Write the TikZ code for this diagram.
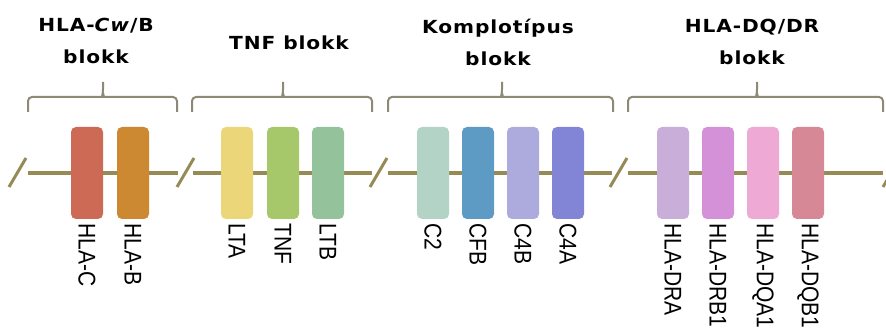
\documentclass[tikz,border=0pt]{standalone}
\usepackage{fontspec}
\setmainfont{Liberation Sans}
\newfontfamily\titlefont[LetterSpace=5,FakeStretch=1.12]{DejaVu Sans}
\definecolor{chrom}{RGB}{150,139,85}
\definecolor{bracec}{RGB}{140,137,118}
\definecolor{cA}{RGB}{204,106,85}
\definecolor{cB}{RGB}{205,137,50}
\definecolor{cLTA}{RGB}{235,214,122}
\definecolor{cTNF}{RGB}{166,200,106}
\definecolor{cLTB}{RGB}{148,194,154}
\definecolor{cCtwo}{RGB}{178,211,198}
\definecolor{cCFB}{RGB}{94,155,196}
\definecolor{cCfourB}{RGB}{173,170,222}
\definecolor{cCfourA}{RGB}{130,133,214}
\definecolor{cDRA}{RGB}{200,174,216}
\definecolor{cDRB}{RGB}{212,145,215}
\definecolor{cDQA}{RGB}{238,170,213}
\definecolor{cDQB}{RGB}{215,136,150}
\tikzset{
  gene/.style={rounded corners=5pt, minimum width=32pt, minimum height=92pt, inner sep=0pt},
  genelabel/.style={rotate=-90, anchor=west, inner sep=0pt, font=\fontsize{21}{21}\selectfont},
  chromline/.style={draw=chrom, line width=4pt},
  breakmark/.style={draw=chrom, line width=3pt},
  bracestyle/.style={draw=bracec, line width=2pt, rounded corners=4pt},
  title/.style={font=\titlefont\bfseries\fontsize{18}{32}\selectfont, align=center, inner sep=0pt}
}
\begin{document}
\begin{tikzpicture}[x=1pt,y=-1pt]
\useasboundingbox (0,0) rectangle (886,331);
% chromosome line segments
\draw[chromline] (28,173) -- (178,173);
\draw[chromline] (193,173) -- (372,173);
\draw[chromline] (388,173) -- (612,173);
\draw[chromline] (628,173) -- (883,173);
% break marks
\foreach \x in {9,177,370,610,883} \draw[breakmark] (\x,187) -- (\x+17,158);
% genes
\foreach \n/\x/\c/\t in {gC/87/cA/HLA-C, gB/133/cB/HLA-B, gLTA/237/cLTA/LTA, gTNF/283/cTNF/TNF, gLTB/328/cLTB/LTB,
  gCtwo/433/cCtwo/C2, gCFB/478/cCFB/CFB, gCfourB/523/cCfourB/C4B, gCfourA/568/cCfourA/C4A,
  gDRA/673/cDRA/HLA-DRA, gDRB/718/cDRB/HLA-DRB1, gDQA/763/cDQA/HLA-DQA1, gDQB/808/cDQB/HLA-DQB1}{
  \node[gene, fill=\c] (\n) at (\x,173) {};
  \node[genelabel] (\n-l) at ([yshift=-4pt]\n.south) {\scalebox{1}[1.15]{\t}};
}
% braces
\foreach \a/\b/\t in {28/177/103, 192/372/283, 388/613/502, 628/883/757}{
  \draw[bracestyle] (\a,112) -- (\a,97) -- (\t-4,97) .. controls (\t-1,97) .. (\t,93) -- (\t,82);
  \draw[bracestyle] (\b,112) -- (\b,97) -- (\t+4,97) .. controls (\t+1,97) .. (\t,93);
}
% titles
\node[title] (t1) at (96,41) {HLA-\textit{Cw}/B\\blokk};
\node[title] (t2) at (289,43) {TNF blokk};
\node[title] (t3) at (498,42) {Komplotípus\\blokk};
\node[title] (t4) at (752,42) {HLA-DQ/DR\\blokk};
\end{tikzpicture}
\end{document}
